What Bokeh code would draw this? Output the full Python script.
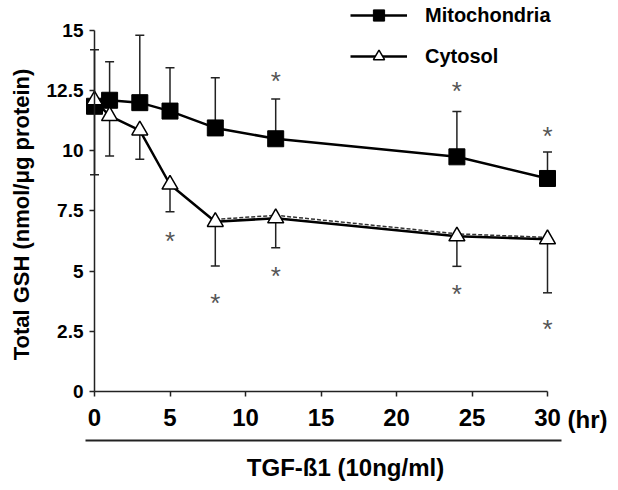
import math
from bokeh.plotting import figure
from bokeh.models import (Range1d, FixedTicker, LinearAxis, Legend, LegendItem,
                          Whisker, TeeHead, ColumnDataSource, Label)
from bokeh.core.properties import value
from bokeh.embed import file_html
from bokeh.resources import INLINE

# ---- data ----
hours = [0, 1, 3, 5, 8, 12, 24, 30]
mito = [11.85, 12.1, 12.0, 11.65, 10.95, 10.5, 9.75, 8.85]
mito_upper = [14.2, 13.7, 14.8, 13.45, 13.03, 12.15, 11.63, 9.95]
cyto = [12.1, 11.45, 10.85, 8.6, 7.05, 7.2, 6.45, 6.33]
cyto_lower = [9.0, 9.78, 9.65, 7.47, 5.21, 5.97, 5.2, 4.1]
dash_hours = [8, 12, 24, 30]
dash_vals = [7.15, 7.32, 6.55, 6.4]
mito_star_hours = [12, 24, 30]
mito_star_y = [13.05, 12.65, 10.8]
cyto_star_hours = [5, 8, 12, 24, 30]
cyto_star_y = [6.4, 3.85, 4.95, 4.2, 2.75]
x_ticks = [0, 5, 10, 15, 20, 25, 30]
y_ticks = [0, 2.5, 5, 7.5, 10, 12.5, 15]
y_tick_labels = ["0", "2.5", "5", "7.5", "10", "12.5", "15"]
series_names = ["Mitochondria", "Cytosol"]
y_title = "Total GSH (nmol/\u03bcg protein)"
x_title = "TGF-\u00df1 (10ng/ml)"
x_unit = "(hr)"

FONT = "Liberation Sans"
W, H = 616, 488
PX_PER_HR = 15.1
PX_PER_UNIT = 24.07
X0_PX, Y0_PX = 94, 391   # where (0, 0) sits on the canvas

x_range = Range1d(-X0_PX / PX_PER_HR, (W - X0_PX) / PX_PER_HR)
y_range = Range1d(-(H - Y0_PX) / PX_PER_UNIT, Y0_PX / PX_PER_UNIT)

p = figure(width=W, height=H, output_backend="svg", toolbar_location=None,
           x_range=x_range, y_range=y_range,
           x_axis_type=None, y_axis_type=None,
           min_border_left=0, min_border_right=0, min_border_top=0,
           min_border_bottom=0)
p.grid.visible = False
p.outline_line_color = None
p.background_fill_color = "white"


def style_axis(ax, size):
    ax.major_tick_out = 5
    ax.major_tick_in = 0
    ax.minor_tick_line_color = None
    ax.axis_line_width = 1.5
    ax.axis_line_color = "#222222"
    ax.major_tick_line_width = 1.5
    ax.major_tick_line_color = "#222222"
    ax.major_label_text_font = FONT
    ax.major_label_text_font_style = "bold"
    ax.major_label_text_font_size = size
    ax.major_label_text_color = "black"


yaxis = LinearAxis(fixed_location=0, bounds=(0, 15), ticker=FixedTicker(ticks=y_ticks),
                   major_label_overrides={t: s for t, s in zip(y_ticks, y_tick_labels)})
style_axis(yaxis, "19px")
yaxis.major_label_standoff = 6
p.add_layout(yaxis, "left")

xaxis = LinearAxis(fixed_location=0, bounds=(0, 30), ticker=FixedTicker(ticks=x_ticks))
style_axis(xaxis, "24px")
xaxis.major_label_standoff = 12
p.add_layout(xaxis, "below")

# treatment bar (an axis line below the x axis)
bar_axis = LinearAxis(fixed_location=-(440 - Y0_PX) / PX_PER_UNIT, bounds=(-0.6, 30.95),
                      ticker=FixedTicker(ticks=[]))
bar_axis.major_tick_line_color = None
bar_axis.minor_tick_line_color = None
bar_axis.major_label_text_font_size = "0px"
bar_axis.axis_line_width = 2
bar_axis.axis_line_color = "#222222"
p.add_layout(bar_axis, "below")

# error bars
src_m = ColumnDataSource(dict(x=hours, base=mito, upper=mito_upper))
src_c = ColumnDataSource(dict(x=hours, base=cyto, lower=cyto_lower))
wm = Whisker(source=src_m, base="x", lower="base", upper="upper", dimension="height",
             line_width=1.5, line_color="#222222", lower_head=None,
             upper_head=TeeHead(size=9, line_width=1.5, line_color="#222222"), level="underlay")
wc = Whisker(source=src_c, base="x", lower="lower", upper="base", dimension="height",
             line_width=1.5, line_color="#222222", upper_head=None,
             lower_head=TeeHead(size=9, line_width=1.5, line_color="#222222"), level="underlay")
p.add_layout(wm)
p.add_layout(wc)

# lines & markers
p.line(dash_hours, dash_vals, line_width=1.5, line_color="#333333", line_dash="4 2")
ml = p.line(hours, mito, line_width=2.5, line_color="black")
cl = p.line(hours, cyto, line_width=2.5, line_color="black")
ms = p.scatter(hours, mito, marker="square", size=16, fill_color="black", line_color="black")
cs = p.scatter(hours, cyto, marker="triangle", size=16, fill_color="white",
               line_color="black", line_width=1.5)

# asterisks
for hx, hy in ((mito_star_hours, mito_star_y), (cyto_star_hours, cyto_star_y)):
    p.text(hx, hy, text=["*"] * len(hx),
           text_font=value(FONT), text_font_size="26px", text_color="#555555",
           text_align="center", text_baseline="middle", y_offset=4)

# legend
legend = Legend(items=[LegendItem(label=series_names[0], renderers=[ml, ms]),
                       LegendItem(label=series_names[1], renderers=[cl, cs])],
                location=(350, H - 1 - 69), orientation="vertical",
                glyph_width=57, glyph_height=28, label_standoff=18, spacing=13,
                padding=0, margin=0, border_line_color=None, background_fill_alpha=0,
                label_text_font=FONT, label_text_font_style="bold",
                label_text_font_size="20px", label_text_color="black")
p.add_layout(legend)

# titles
p.add_layout(Label(x=(21 - X0_PX) / PX_PER_HR, y=(Y0_PX - 214) / PX_PER_UNIT, text=y_title,
                   angle=math.pi / 2, text_align="center", text_baseline="middle",
                   text_font=FONT, text_font_style="bold", text_font_size="22px",
                   text_color="black"))
p.add_layout(Label(x=(345 - X0_PX) / PX_PER_HR, y=(Y0_PX - 467) / PX_PER_UNIT, text=x_title,
                   text_align="center", text_baseline="middle",
                   text_font=FONT, text_font_style="bold", text_font_size="24px",
                   text_color="black"))
p.add_layout(Label(x=(567 - X0_PX) / PX_PER_HR, y=(Y0_PX - 419) / PX_PER_UNIT, text=x_unit,
                   text_align="left", text_baseline="middle",
                   text_font=FONT, text_font_style="bold", text_font_size="24px",
                   text_color="black"))

open("out.html", "w").write(file_html(p, INLINE))
